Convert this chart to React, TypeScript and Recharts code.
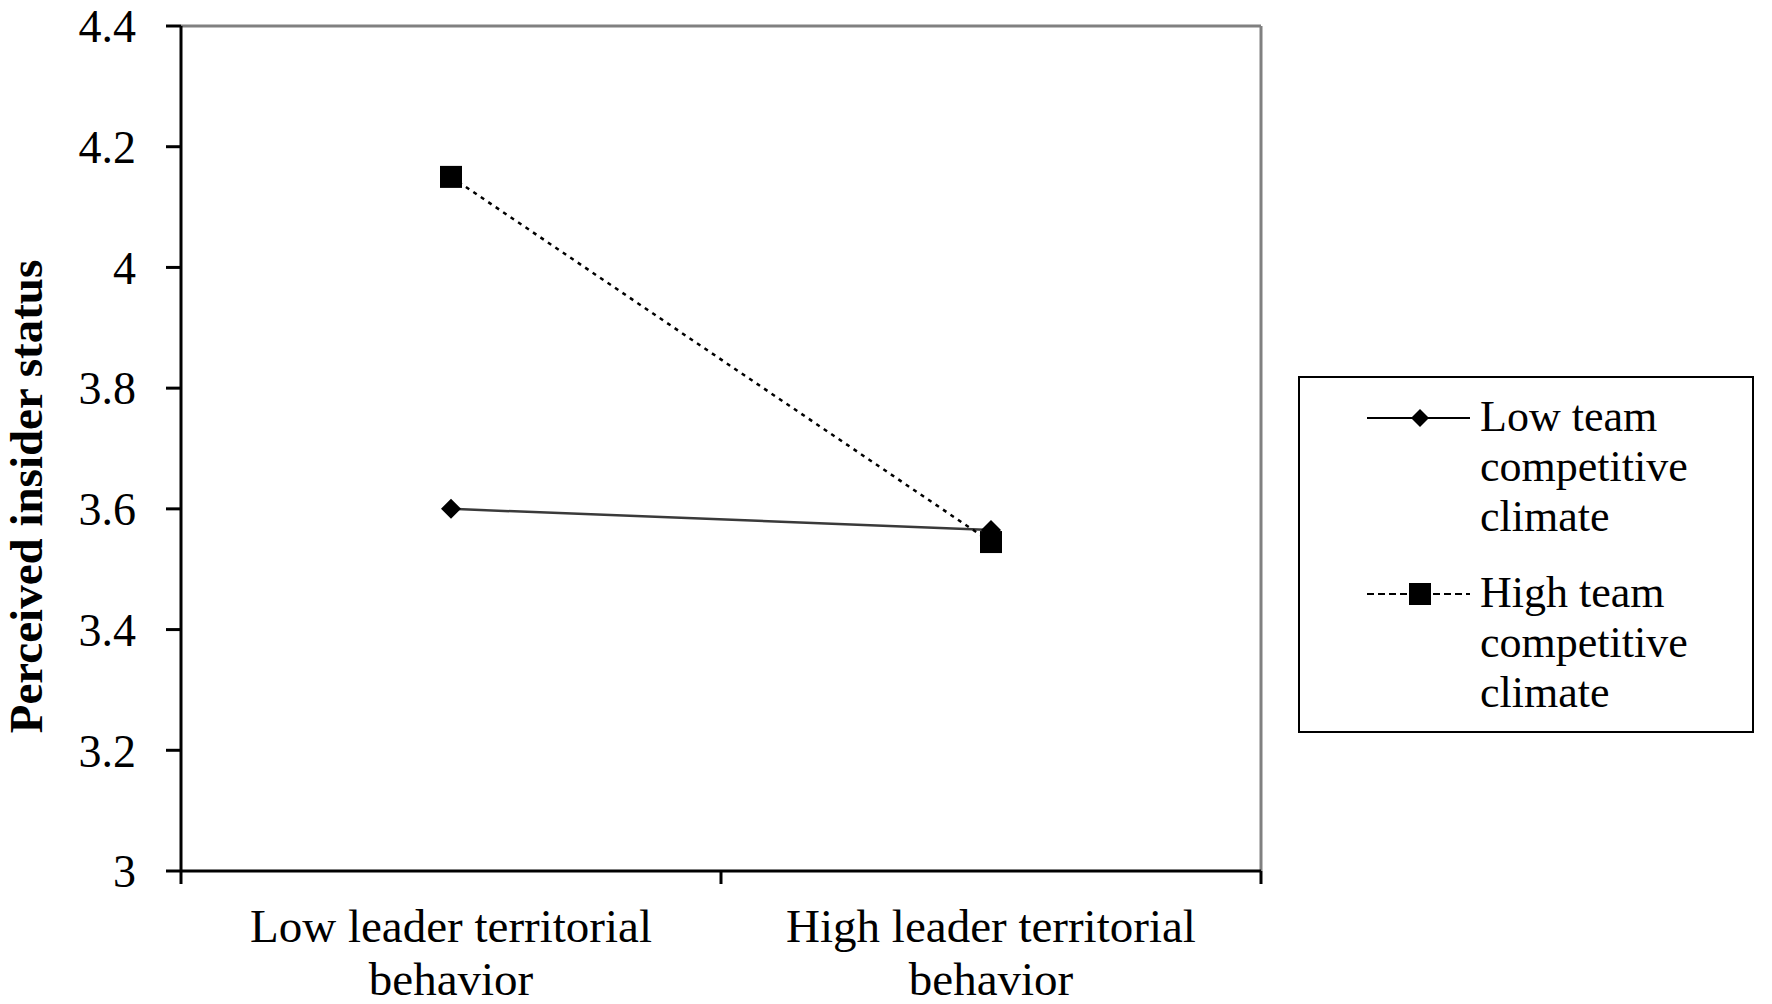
import React from "react";
import {
  LineChart,
  Line,
  XAxis,
  YAxis,
  ReferenceLine,
} from "recharts";

const categories = [
  ["Low leader territorial", "behavior"],
  ["High leader territorial", "behavior"],
];
const lowTeamClimate = [3.6, 3.565];
const highTeamClimate = [4.15, 3.545];
const yTicks = [3, 3.2, 3.4, 3.6, 3.8, 4, 4.2, 4.4];
const xTicks = [0, 0.5, 1, 1.5, 2];
const seriesNames = [
  ["Low team", "competitive", "climate"],
  ["High team", "competitive", "climate"],
];

const data = categories.map((_, i) => ({
  x: i + 0.5,
  low: lowTeamClimate[i],
  high: highTeamClimate[i],
}));

const SERIF = '"Liberation Serif", "Times New Roman", serif';

function DiamondDot(props: any) {
  const { cx, cy } = props;
  if (cx == null || cy == null) return null;
  const r = 10;
  return (
    <polygon
      points={`${cx},${cy - r} ${cx + r},${cy} ${cx},${cy + r} ${cx - r},${cy}`}
      fill="#000"
    />
  );
}

function SquareDot(props: any) {
  const { cx, cy } = props;
  if (cx == null || cy == null) return null;
  const s = 22;
  return <rect x={cx - s / 2} y={cy - s / 2} width={s} height={s} fill="#000" />;
}

function XTick(props: any) {
  const { x, y, payload } = props;
  const v = payload.value;
  if (Number.isInteger(v)) {
    return <line x1={x} y1={y} x2={x} y2={y + 13} stroke="#000" strokeWidth={3} />;
  }
  const lines = categories[Math.floor(v)];
  return (
    <text x={x} textAnchor="middle" fontFamily={SERIF} fontSize={47} fill="#000">
      {lines.map((ln, i) => (
        <tspan key={i} x={x} y={y + 71 + i * 53}>
          {ln}
        </tspan>
      ))}
    </text>
  );
}

function LegendBox() {
  const samples = [
    { dash: undefined, marker: "diamond" },
    { dash: "7 4", marker: "square" },
  ];
  return (
    <div
      style={{
        position: "absolute",
        left: 1298,
        top: 376,
        width: 456,
        height: 357,
        boxSizing: "border-box",
        border: "2px solid #000",
        background: "#fff",
        fontFamily: SERIF,
        fontSize: 44,
        lineHeight: "50px",
        color: "#000",
      }}
    >
      {seriesNames.map((lines, i) => (
        <div
          key={i}
          style={{ position: "absolute", left: 0, top: 14 + i * 176, width: "100%" }}
        >
          <svg
            width={110}
            height={50}
            style={{ position: "absolute", left: 65, top: 0 }}
          >
            <line
              x1={2}
              y1={26}
              x2={105}
              y2={26}
              stroke="#000"
              strokeWidth={2}
              strokeDasharray={samples[i].dash}
            />
            {samples[i].marker === "diamond" ? (
              <polygon points="55,17 64,26 55,35 46,26" fill="#000" />
            ) : (
              <rect x={44} y={15} width={22} height={22} fill="#000" />
            )}
          </svg>
          <div style={{ position: "absolute", left: 180, top: 0, whiteSpace: "nowrap" }}>
            {lines.map((ln, j) => (
              <div key={j}>{ln}</div>
            ))}
          </div>
        </div>
      ))}
    </div>
  );
}

export default function App() {
  return (
    <div
      style={{
        position: "absolute",
        left: 0,
        top: 0,
        width: 1772,
        height: 1004,
        background: "#fff",
      }}
    >
      <LineChart
        width={1772}
        height={1004}
        data={data}
        margin={{ top: 26, right: 511, bottom: 0, left: 0 }}
      >
        <XAxis
          dataKey="x"
          type="number"
          domain={[0, 2]}
          ticks={xTicks}
          interval={0}
          height={133}
          tickLine={false}
          tickSize={0}
          tickMargin={0}
          tick={<XTick />}
          stroke="#000"
          strokeWidth={3}
        />
        <YAxis
          type="number"
          domain={[3, 4.4]}
          ticks={yTicks}
          interval={0}
          width={181}
          tickSize={15}
          tickMargin={30}
          stroke="#000"
          strokeWidth={3}
          tick={{ fill: "#000", fontSize: 46, fontFamily: SERIF }}
          tickFormatter={(v: number) => String(+v.toFixed(1))}
          label={{
            value: "Perceived insider status",
            angle: -90,
            position: "center",
            dx: -65,
            dy: 48,
            style: {
              fontFamily: SERIF,
              fontSize: 47,
              fontWeight: "bold",
              fill: "#000",
              textAnchor: "middle",
            },
          }}
        />
        <ReferenceLine y={4.4} stroke="#808080" strokeWidth={3} />
        <ReferenceLine x={2} stroke="#808080" strokeWidth={3} />
        <Line
          dataKey="low"
          stroke="#3a3a3a"
          strokeWidth={2.5}
          dot={<DiamondDot />}
          activeDot={false}
          isAnimationActive={false}
        />
        <Line
          dataKey="high"
          stroke="#000"
          strokeWidth={2.5}
          strokeDasharray="4 5"
          dot={<SquareDot />}
          activeDot={false}
          isAnimationActive={false}
        />
      </LineChart>
      <LegendBox />
    </div>
  );
}
